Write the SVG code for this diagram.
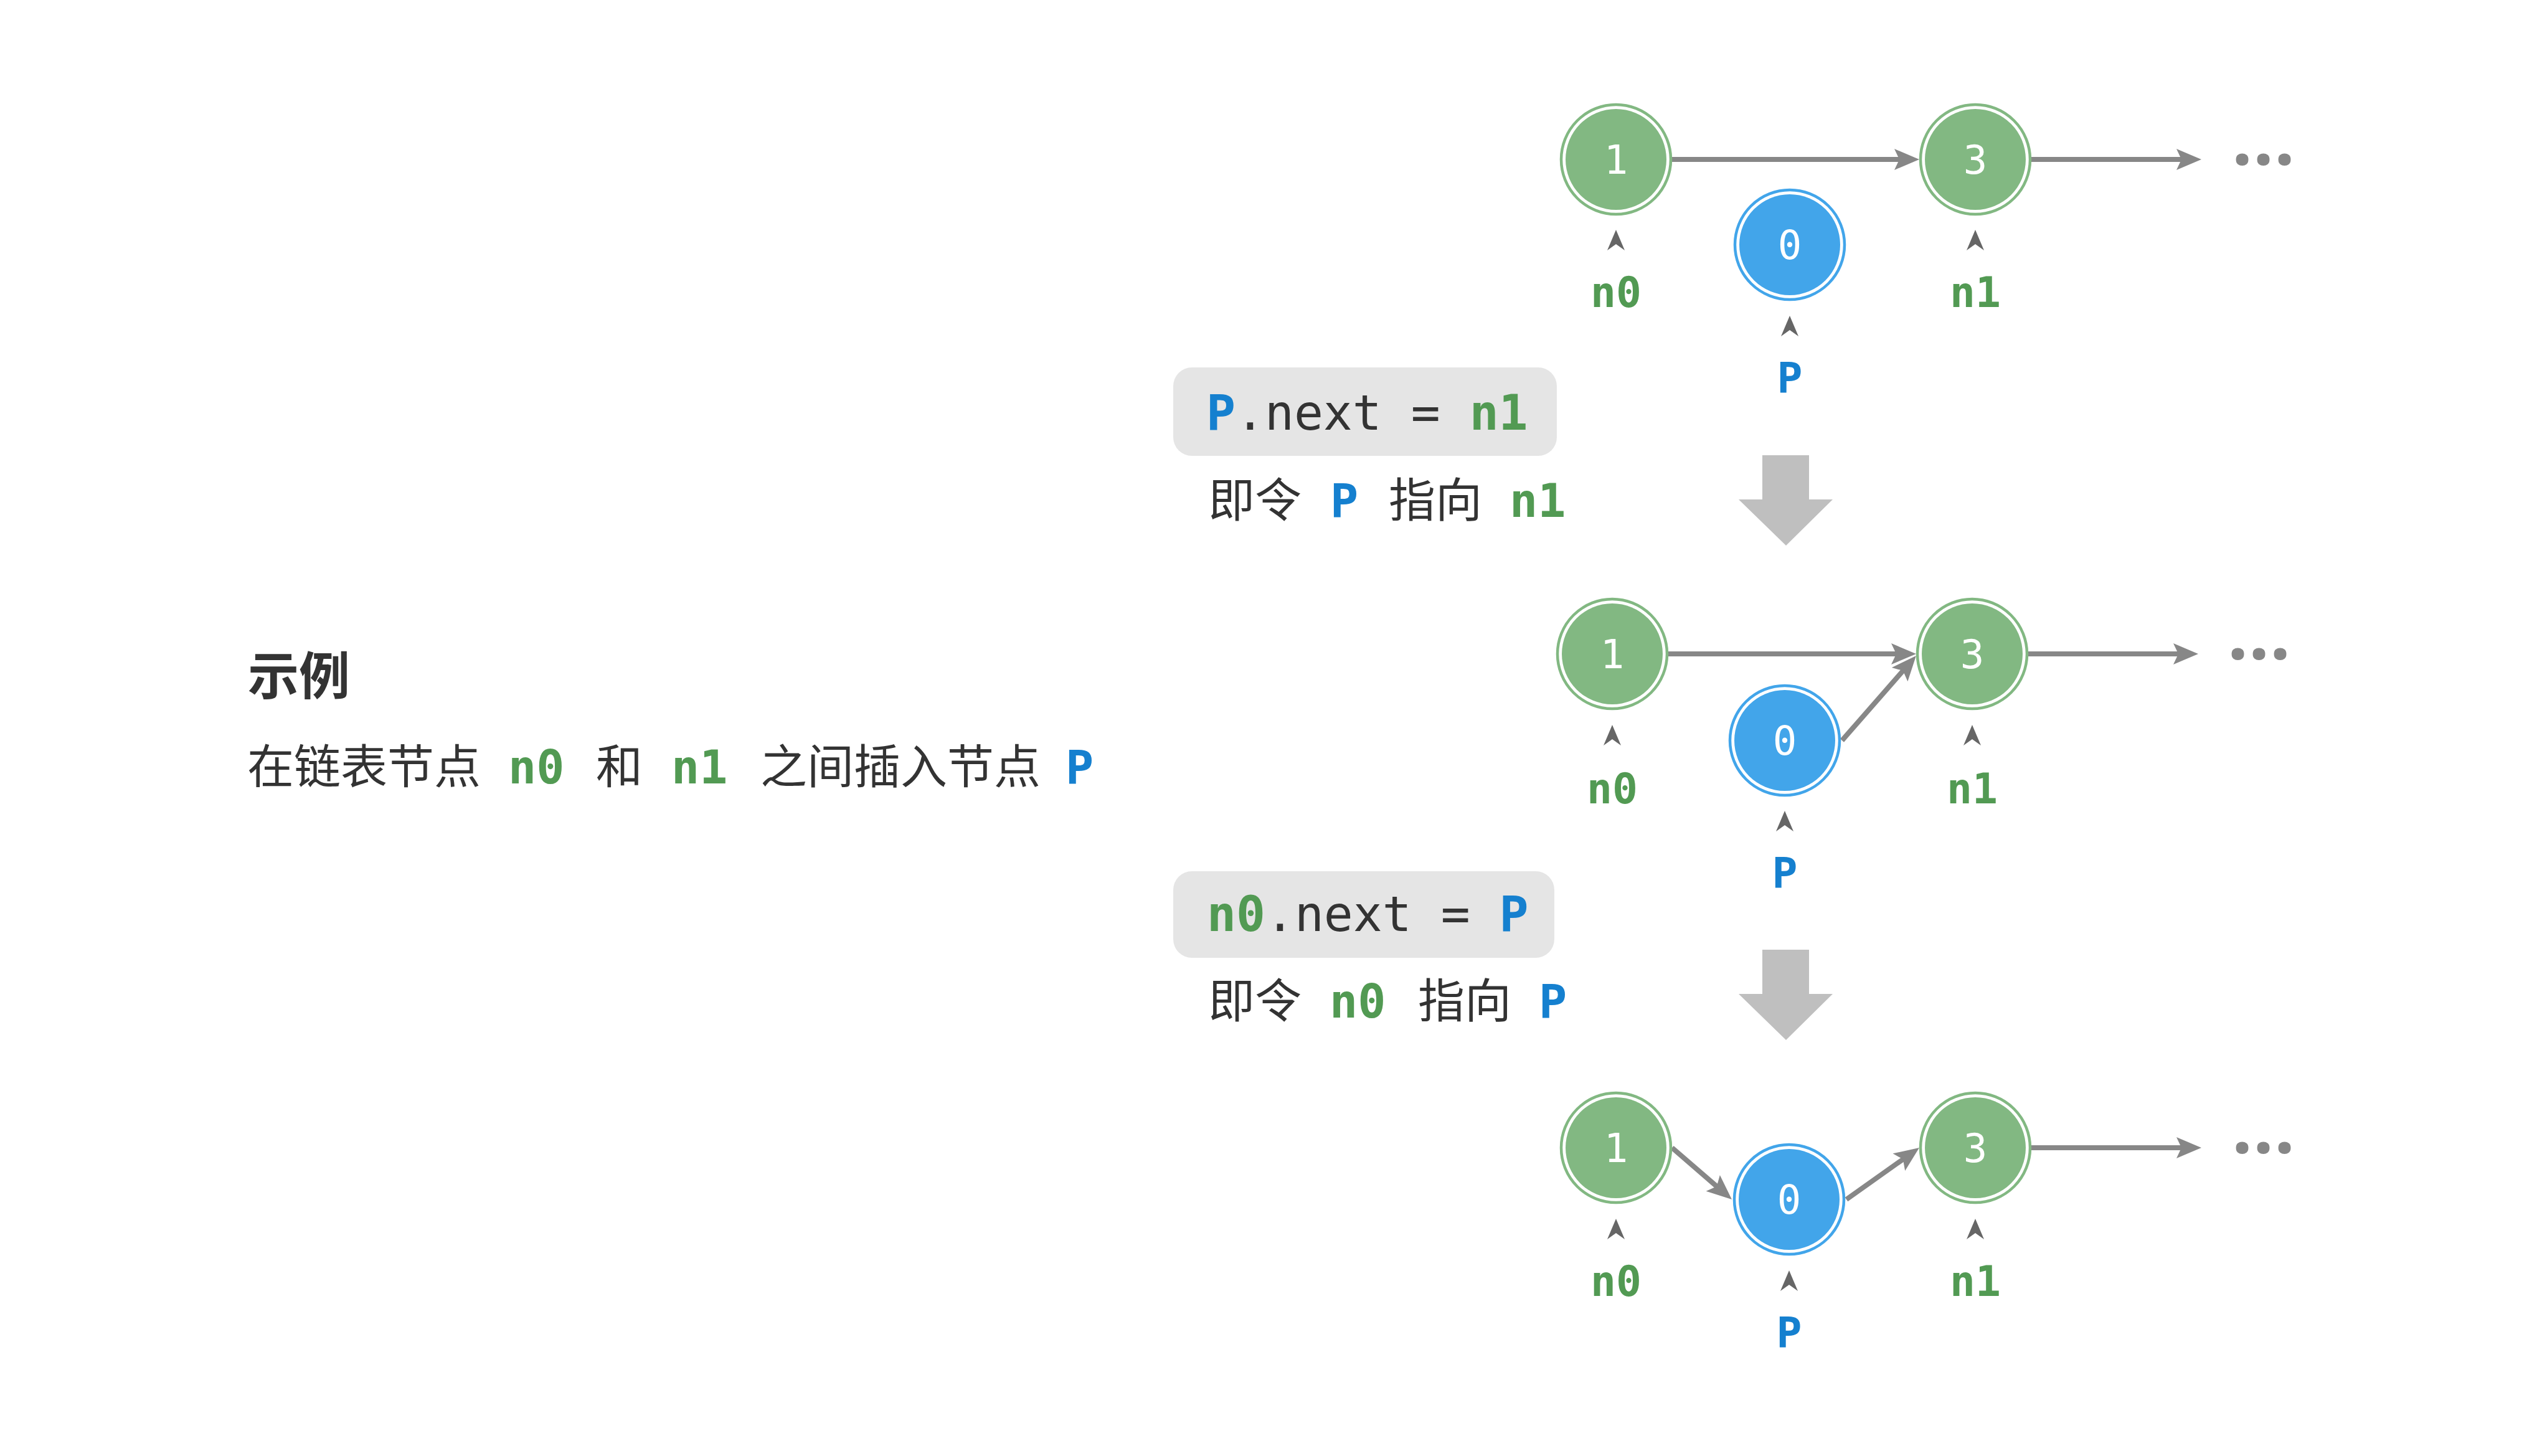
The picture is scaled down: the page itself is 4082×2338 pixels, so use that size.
<svg xmlns="http://www.w3.org/2000/svg" width="4082" height="2338" viewBox="0 0 4082 2338">
<style>
  .ring-g{fill:none;stroke:#82b882;stroke-width:4.5}
  .fill-g{fill:#82b882}
  .ring-b{fill:none;stroke:#42a5ea;stroke-width:4.5}
  .fill-b{fill:#42a5ea}
  .num{font-family:"DejaVu Sans Mono","Liberation Mono",monospace;font-size:64px;fill:#ffffff;text-anchor:middle}
  .lbl{font-family:"DejaVu Sans Mono","Liberation Mono",monospace;font-size:68px;font-weight:bold;text-anchor:middle}
  .g{fill:#529a53}
  .b{fill:#1580cf}
  .ptr{fill:#666666}
  .edge{stroke:#878787;stroke-width:8;fill:none;marker-end:url(#arr)}
  .dots{font-family:"Open Sans","Noto Sans",sans-serif;font-size:116px;font-weight:bold;fill:#878787}
  .code{font-family:"DejaVu Sans Mono","Liberation Mono",monospace;font-size:78px;fill:#333333;white-space:pre}
  .cjk{font-family:"Noto Sans CJK SC","Noto Sans",sans-serif;font-size:75px;fill:#333333}
  .mono{font-family:"DejaVu Sans Mono","Liberation Mono",monospace;font-weight:bold}
  .box{fill:#e5e5e5}
  .down{fill:#bfbfbf}
</style>
<defs>
  <marker id="arr" markerUnits="userSpaceOnUse" markerWidth="80" markerHeight="60" refX="0" refY="0" viewBox="-20 -30 80 60" orient="auto" overflow="visible">
    <path d="M30,0 L-10,-17 L-2,0 L-10,17 Z" fill="#878787"/>
  </marker>
  <path id="pa" d="M0,0 L14,33 L0,23 L-14,33 Z"/>
</defs>
<rect x="0" y="0" width="4082" height="2338" fill="#ffffff"/>

<!-- Left description -->
<g id="description">
  <text x="398" y="1115" class="cjk" style="font-size:82px;font-weight:bold">示例</text>
  <text y="1258" class="cjk"><tspan x="397">在链表节点</tspan><tspan x="816" class="mono g">n0</tspan><tspan x="957">和</tspan><tspan x="1078" class="mono g">n1</tspan><tspan x="1221">之间插入节点</tspan><tspan x="1711" class="mono b">P</tspan></text>
</g>

<!-- Step 1 annotations -->
<g id="step1">
  <rect class="box" x="1884" y="590" width="616" height="142" rx="30"/>
  <text x="1937" y="690" class="code"><tspan class="mono b">P</tspan><tspan>.next = </tspan><tspan class="mono g">n1</tspan></text>
  <text y="830" class="cjk"><tspan x="1940">即令</tspan><tspan x="2136" class="mono b">P</tspan><tspan x="2230">指向</tspan><tspan x="2424" class="mono g">n1</tspan></text>
  <polygon class="down" points="2830,731 2905,731 2905,802 2943,802 2868,876 2792,802 2830,802"/>
</g>

<!-- Step 2 annotations -->
<g id="step2">
  <rect class="box" x="1884" y="1399" width="612" height="139" rx="30"/>
  <text x="1938" y="1495" class="code"><tspan class="mono g">n0</tspan><tspan>.next = </tspan><tspan class="mono b">P</tspan></text>
  <text y="1634" class="cjk"><tspan x="1940">即令</tspan><tspan x="2135" class="mono g">n0</tspan><tspan x="2277">指向</tspan><tspan x="2471" class="mono b">P</tspan></text>
  <polygon class="down" points="2830,1525 2905,1525 2905,1596 2943,1596 2868,1670 2792,1596 2830,1596"/>
</g>

<!-- Connectors -->
<g id="connectors">
  <line class="edge" x1="2685" y1="256" x2="3052" y2="256"/>
  <line class="edge" x1="3262" y1="256" x2="3505" y2="256"/>
  <line class="edge" x1="2679" y1="1050" x2="3047" y2="1050"/>
  <line class="edge" x1="2958" y1="1189" x2="3057.2" y2="1075.6"/>
  <line class="edge" x1="3257" y1="1050" x2="3500" y2="1050"/>
  <line class="edge" x1="2685" y1="1843" x2="2758.3" y2="1906.4"/>
  <line class="edge" x1="2965" y1="1926" x2="3057.5" y2="1860.4"/>
  <line class="edge" x1="3262" y1="1843" x2="3505" y2="1843"/>
</g>

<!-- Row 1 -->
<g id="r1-n0">
  <circle class="ring-g" cx="2595" cy="256" r="88"/><circle class="fill-g" cx="2595" cy="256" r="81"/>
  <text class="num" x="2595" y="279">1</text>
  <use href="#pa" class="ptr" x="2595" y="369"/>
  <text class="lbl g" x="2595" y="493">n0</text>
</g>
<g id="r1-p">
  <circle class="ring-b" cx="2874" cy="393" r="88"/><circle class="fill-b" cx="2874" cy="393" r="81"/>
  <text class="num" x="2874" y="416">0</text>
  <use href="#pa" class="ptr" x="2874" y="507"/>
  <text class="lbl b" x="2874" y="631">P</text>
</g>
<g id="r1-n1">
  <circle class="ring-g" cx="3172" cy="256" r="88"/><circle class="fill-g" cx="3172" cy="256" r="81"/>
  <text class="num" x="3172" y="279">3</text>
  <use href="#pa" class="ptr" x="3172" y="369"/>
  <text class="lbl g" x="3172" y="493">n1</text>
</g>
<text id="r1-more" class="dots" x="3584 3618 3652" y="264">...</text>

<!-- Row 2 -->
<g id="r2-n0">
  <circle class="ring-g" cx="2589" cy="1050" r="88"/><circle class="fill-g" cx="2589" cy="1050" r="81"/>
  <text class="num" x="2589" y="1073">1</text>
  <use href="#pa" class="ptr" x="2589" y="1164"/>
  <text class="lbl g" x="2589" y="1290">n0</text>
</g>
<g id="r2-p">
  <circle class="ring-b" cx="2866" cy="1189" r="88"/><circle class="fill-b" cx="2866" cy="1189" r="81"/>
  <text class="num" x="2866" y="1212">0</text>
  <use href="#pa" class="ptr" x="2866" y="1302"/>
  <text class="lbl b" x="2866" y="1426">P</text>
</g>
<g id="r2-n1">
  <circle class="ring-g" cx="3167" cy="1050" r="88"/><circle class="fill-g" cx="3167" cy="1050" r="81"/>
  <text class="num" x="3167" y="1073">3</text>
  <use href="#pa" class="ptr" x="3167" y="1164"/>
  <text class="lbl g" x="3167" y="1290">n1</text>
</g>
<text id="r2-more" class="dots" x="3577 3611 3645" y="1058">...</text>

<!-- Row 3 -->
<g id="r3-n0">
  <circle class="ring-g" cx="2595" cy="1843" r="88"/><circle class="fill-g" cx="2595" cy="1843" r="81"/>
  <text class="num" x="2595" y="1866">1</text>
  <use href="#pa" class="ptr" x="2595" y="1957"/>
  <text class="lbl g" x="2595" y="2081">n0</text>
</g>
<g id="r3-p">
  <circle class="ring-b" cx="2873" cy="1926" r="88"/><circle class="fill-b" cx="2873" cy="1926" r="81"/>
  <text class="num" x="2873" y="1949">0</text>
  <use href="#pa" class="ptr" x="2873" y="2040"/>
  <text class="lbl b" x="2873" y="2164">P</text>
</g>
<g id="r3-n1">
  <circle class="ring-g" cx="3172" cy="1843" r="88"/><circle class="fill-g" cx="3172" cy="1843" r="81"/>
  <text class="num" x="3172" y="1866">3</text>
  <use href="#pa" class="ptr" x="3172" y="1957"/>
  <text class="lbl g" x="3172" y="2081">n1</text>
</g>
<text id="r3-more" class="dots" x="3584 3618 3652" y="1851">...</text>
</svg>
